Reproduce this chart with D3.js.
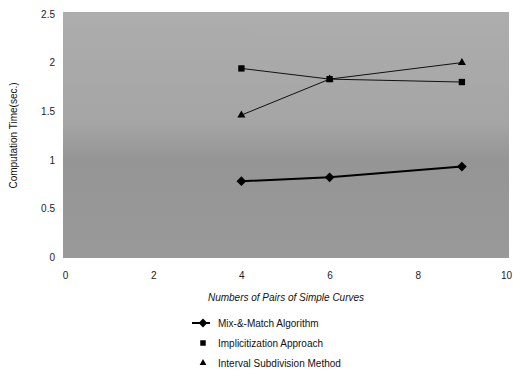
<!DOCTYPE html>
<html>
<head>
<meta charset="utf-8">
<script src="https://cdn.jsdelivr.net/npm/d3@7"></script>
<style>
  body { margin: 0; background: #fff; }
  svg { display: block; font-family: "Liberation Sans", Arial, sans-serif; }
</style>
</head>
<body>
<svg id="chart" width="513" height="373"></svg>
<script>
const xTicks = [0, 2, 4, 6, 8, 10]
const yTicks = [0, 0.5, 1, 1.5, 2, 2.5]
const pairs = [4, 6, 9]
const mixMatch = [0.78, 0.82, 0.93]
const implicitization = [1.94, 1.83, 1.80]
const interval = [1.46, 1.83, 2.0]
const seriesNames = ["Mix-&-Match Algorithm", "Implicitization Approach", "Interval Subdivision Method"]

const svg = d3.select("#chart")
const x = d3.scaleLinear().domain([0, 10]).range([65, 506])
const y = d3.scaleLinear().domain([0, 2.5]).range([257, 14])

const defs = svg.append("defs")
const grad = defs.append("linearGradient").attr("id", "bg").attr("x1", 0).attr("x2", 0).attr("y1", 0).attr("y2", 1)
grad.append("stop").attr("offset", "0%").attr("stop-color", "#adadad")
grad.append("stop").attr("offset", "45%").attr("stop-color", "#a5a5a5")
grad.append("stop").attr("offset", "60%").attr("stop-color", "#959595")
grad.append("stop").attr("offset", "100%").attr("stop-color", "#999999")

// plot background
svg.append("rect")
    .attr("x", x(0) - 2).attr("y", y(2.5) - 2)
    .attr("width", x(10) - x(0) + 5).attr("height", y(0) - y(2.5) + 3)
    .attr("fill", "url(#bg)")

// y axis
const yAxis = svg.append("g")
    .attr("transform", `translate(${x(0) - 2},0)`)
    .call(d3.axisLeft(y).tickValues(yTicks).tickSize(0).tickPadding(8).tickFormat(d3.format("")))
yAxis.select(".domain").remove()
yAxis.selectAll("text").attr("font-size", 10).attr("fill", "#222").style("font-family", "Liberation Sans, Arial, sans-serif")

// x axis
const xAxis = svg.append("g")
    .attr("transform", `translate(0,${y(0) + 12})`)
    .call(d3.axisBottom(x).tickValues(xTicks).tickSize(0).tickFormat(d3.format("d")))
xAxis.select(".domain").remove()
xAxis.selectAll("text").attr("font-size", 10).attr("fill", "#222").style("font-family", "Liberation Sans, Arial, sans-serif")

svg.append("text")
    .attr("transform", `translate(17,${(y(0) + y(2.5)) / 2}) rotate(-90)`)
    .attr("text-anchor", "middle")
    .attr("font-size", 10)
    .attr("fill", "#111")
    .text("Computation Time(sec.)")

svg.append("text")
    .attr("x", 286).attr("y", 301)
    .attr("text-anchor", "middle")
    .attr("font-size", 10)
    .attr("font-style", "italic")
    .attr("fill", "#111")
    .text("Numbers of Pairs of Simple Curves")

const line = d3.line().x((d) => x(d[0])).y((d) => y(d[1]))
const zip = (vals) => pairs.map((p, i) => [p, vals[i]])

// lines
svg.append("path").datum(zip(interval)).attr("d", line).attr("fill", "none").attr("stroke", "#111").attr("stroke-width", 1)
svg.append("path").datum(zip(implicitization)).attr("d", line).attr("fill", "none").attr("stroke", "#111").attr("stroke-width", 1)
svg.append("path").datum(zip(mixMatch)).attr("d", line).attr("fill", "none").attr("stroke", "#000").attr("stroke-width", 2)

// markers
const diamond = d3.symbol().type(d3.symbolDiamond2).size(60)
const square = d3.symbol().type(d3.symbolSquare).size(40)
const triangle = d3.symbol().type(d3.symbolTriangle).size(28)

svg.append("g").selectAll("path").data(zip(mixMatch)).join("path")
    .attr("transform", (d) => `translate(${x(d[0])},${y(d[1])})`).attr("d", diamond).attr("fill", "#000")
svg.append("g").selectAll("path").data(zip(implicitization)).join("path")
    .attr("transform", (d) => `translate(${x(d[0])},${y(d[1])})`).attr("d", square).attr("fill", "#000")
svg.append("g").selectAll("path").data(zip(interval)).join("path")
    .attr("transform", (d) => `translate(${x(d[0])},${y(d[1])})`).attr("d", triangle).attr("fill", "#000")

// legend
const legend = svg.append("g").attr("transform", "translate(192,323)")
const rows = legend.selectAll("g").data(seriesNames).join("g")
    .attr("transform", (d, i) => `translate(0,${i * 20})`)
rows.filter((d, i) => i === 0).append("line")
    .attr("x1", 0).attr("x2", 18).attr("stroke", "#000").attr("stroke-width", 2)
rows.append("path")
    .attr("transform", "translate(11,0)")
    .attr("d", (d, i) => [d3.symbol().type(d3.symbolDiamond2).size(50), d3.symbol().type(d3.symbolSquare).size(30), d3.symbol().type(d3.symbolTriangle).size(20)][i]())
    .attr("fill", "#000")
rows.append("text")
    .attr("x", 26).attr("dy", "0.35em")
    .attr("font-size", 10)
    .attr("fill", "#111")
    .text((d) => d)
</script>
</body>
</html>
